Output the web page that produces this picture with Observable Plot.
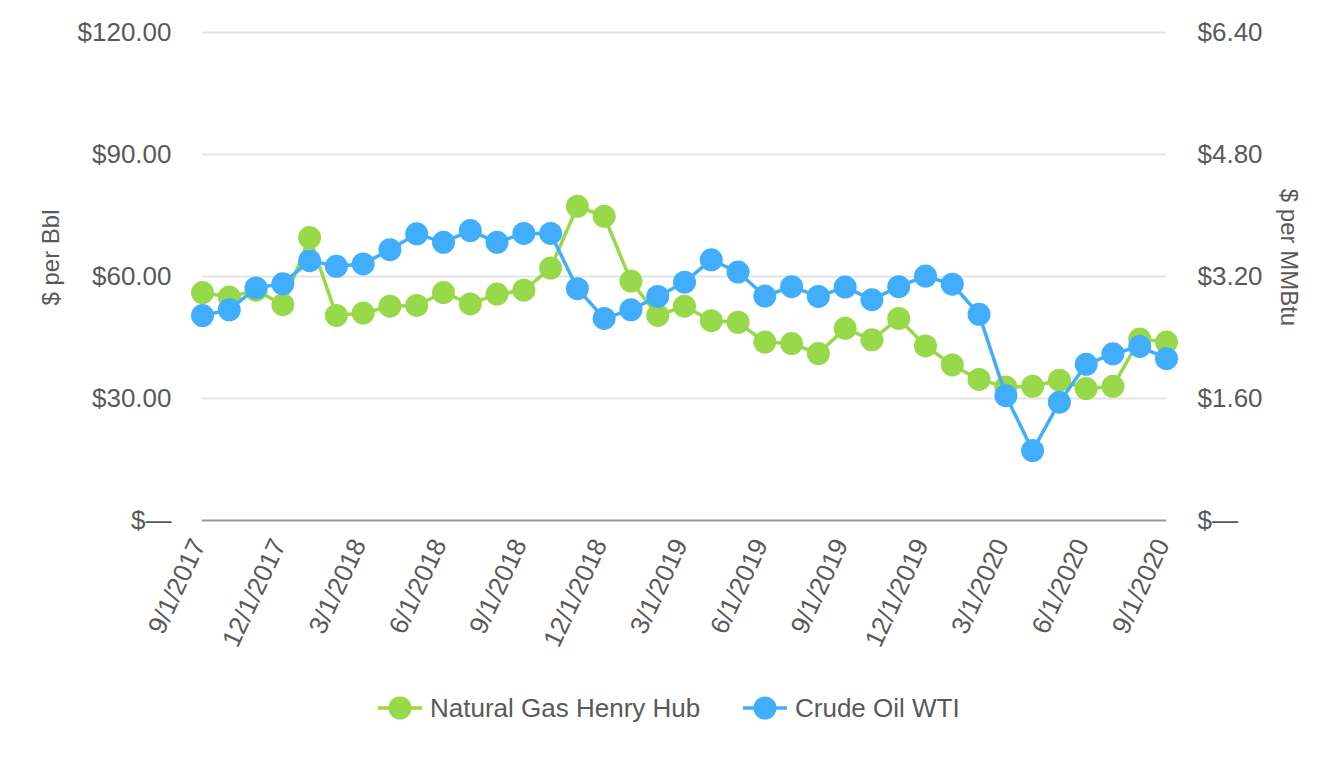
<!DOCTYPE html>
<html>
<head>
<meta charset="utf-8">
<script src="https://cdn.jsdelivr.net/npm/d3@7"></script>
<script src="https://cdn.jsdelivr.net/npm/@observablehq/plot@0.6"></script>
<style>
  html, body { margin: 0; padding: 0; background: #fff; }
  body { width: 1340px; height: 760px; position: relative; overflow: hidden; font-family: "Liberation Sans", Arial, sans-serif; }
  #legend { position: absolute; left: 0; top: 690px; width: 1340px; height: 40px; color: #595959; font-size: 26px; }
  .item { position: absolute; top: 0; height: 36px; display: flex; align-items: center; }
  .item svg { margin-right: 8px; }
</style>
</head>
<body>
<div id="chart"></div>
<div id="legend"></div>
<script>
// Categories (monthly)
const months = [
  "9/1/2017","10/1/2017","11/1/2017","12/1/2017","1/1/2018","2/1/2018","3/1/2018","4/1/2018","5/1/2018",
  "6/1/2018","7/1/2018","8/1/2018","9/1/2018","10/1/2018","11/1/2018","12/1/2018","1/1/2019","2/1/2019",
  "3/1/2019","4/1/2019","5/1/2019","6/1/2019","7/1/2019","8/1/2019","9/1/2019","10/1/2019","11/1/2019",
  "12/1/2019","1/1/2020","2/1/2020","3/1/2020","4/1/2020","5/1/2020","6/1/2020","7/1/2020","8/1/2020","9/1/2020"
];
// Crude Oil WTI, $ per Bbl (left axis)
const oil = [
  50.4, 51.8, 57.2, 58.2, 63.9, 62.5, 63.1, 66.6, 70.5,
  68.4, 71.3, 68.4, 70.6, 70.6, 57.0, 49.7, 51.8, 55.1,
  58.6, 64.1, 61.1, 55.2, 57.5, 55.1, 57.4, 54.3, 57.5,
  60.1, 58.1, 50.7, 30.7, 17.2, 29.1, 38.4, 41.0, 42.8, 39.8
];
// Natural Gas Henry Hub, $ per MMBtu (right axis)
const gas = [
  2.99, 2.93, 3.02, 2.83, 3.71, 2.69, 2.72, 2.81, 2.82,
  2.99, 2.84, 2.97, 3.02, 3.31, 4.12, 3.99, 3.14, 2.69,
  2.81, 2.62, 2.60, 2.34, 2.32, 2.19, 2.52, 2.37, 2.65,
  2.29, 2.04, 1.85, 1.75, 1.76, 1.84, 1.73, 1.76, 2.38, 2.34
];
const xTicks = ["9/1/2017","12/1/2017","3/1/2018","6/1/2018","9/1/2018","12/1/2018","3/1/2019","6/1/2019","9/1/2019","12/1/2019","3/1/2020","6/1/2020","9/1/2020"];
const leftTicks = [0, 30, 60, 90, 120];
const leftTickLabels = ["$—", "$30.00", "$60.00", "$90.00", "$120.00"];
const rightTickLabels = ["$—", "$1.60", "$3.20", "$4.80", "$6.40"];
const rightMax = 6.40, leftMax = 120;
const seriesNames = ["Natural Gas Henry Hub", "Crude Oil WTI"];
const colors = ["#98d94a", "#40aefd"];

const ratio = leftMax / rightMax;
const oilData = months.map((m, i) => ({month: m, v: oil[i]}));
const gasData = months.map((m, i) => ({month: m, v: gas[i] * ratio}));
const leftFmt = new Map(leftTicks.map((t, i) => [t, leftTickLabels[i]]));
const rightFmt = new Map(leftTicks.map((t, i) => [t, rightTickLabels[i]]));

const FS = 26;
const chart = Plot.plot({
  width: 1340,
  height: 690,
  marginTop: 32,
  marginBottom: 170,
  marginLeft: 202,
  marginRight: 174,
  style: {fontFamily: '"Liberation Sans", Arial, sans-serif', color: "#595959", background: "#fff", overflow: "visible"},
  x: {type: "point", domain: months, padding: 0, round: false},
  y: {domain: [0, leftMax]},
  marks: [
    Plot.gridY([30, 60, 90, 120], {stroke: "#e4e4e4", strokeOpacity: 1, strokeWidth: 2}),
    Plot.ruleY([0], {stroke: "#9a9a9a", strokeWidth: 2}),
    Plot.axisY(leftTicks, {anchor: "left", tickSize: 0, tickPadding: 31, fontSize: FS, label: null, tickFormat: d => leftFmt.get(d)}),
    Plot.axisY(leftTicks, {anchor: "right", tickSize: 0, tickPadding: 31, fontSize: FS, label: null, tickFormat: d => rightFmt.get(d)}),
    Plot.axisX(xTicks, {tickRotate: -65, tickSize: 0, tickPadding: 20, dx: -4, fontSize: FS, label: null}),
    Plot.text(["$ per Bbl"], {frameAnchor: "left", textAnchor: "middle", dx: -151, dy: -19, rotate: -90, fontSize: 24, fill: "#595959"}),
    Plot.text(["$ per MMBtu"], {frameAnchor: "right", textAnchor: "middle", dx: 122, dy: -19, rotate: 90, fontSize: 24, fill: "#595959"}),
    Plot.line(gasData, {x: "month", y: "v", stroke: colors[0], strokeWidth: 3.5}),
    Plot.dot(gasData, {x: "month", y: "v", r: 11.5, fill: colors[0]}),
    Plot.line(oilData, {x: "month", y: "v", stroke: colors[1], strokeWidth: 3.5}),
    Plot.dot(oilData, {x: "month", y: "v", r: 11.5, fill: colors[1]})
  ]
});
document.getElementById("chart").appendChild(chart);

const legend = document.getElementById("legend");
const lefts = [378, 743];
seriesNames.forEach((name, i) => {
  const div = document.createElement("div");
  div.className = "item";
  div.style.left = lefts[i] + "px";
  div.innerHTML = `<svg width="44" height="26"><line x1="0" y1="13" x2="44" y2="13" stroke="${colors[i]}" stroke-width="3.5"/><circle cx="22" cy="13" r="11.5" fill="${colors[i]}"/></svg><span>${name}</span>`;
  legend.appendChild(div);
});
</script>
</body>
</html>
